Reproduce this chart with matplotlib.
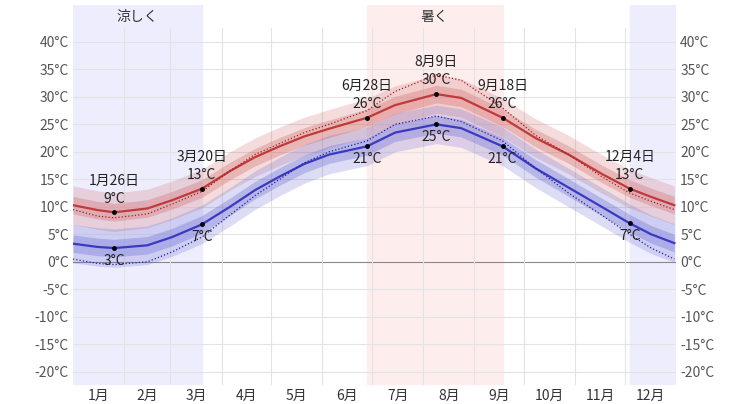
import numpy as np
import matplotlib.pyplot as plt

plt.rcParams['font.family'] = ['Noto Sans CJK JP', 'DejaVu Sans']

# day of year (0 = Jan 1)
days = [0, 15, 25, 45, 60, 78, 95, 110, 125, 140, 155, 178, 195, 220, 235, 260, 280, 300, 320, 337, 350, 364]
high = [10.3, 9.4, 9.0, 9.7, 11.2, 13.3, 16.5, 19.0, 21.0, 22.8, 24.2, 26.2, 28.5, 30.5, 29.8, 26.2, 22.5, 19.5, 16.0, 13.3, 11.8, 10.3]
low = [3.3, 2.7, 2.5, 3.0, 4.5, 6.8, 10.0, 13.0, 15.5, 17.8, 19.5, 21.0, 23.5, 25.0, 24.3, 21.0, 17.0, 13.5, 10.0, 7.0, 5.0, 3.4]
feel_high = [9.5, 8.3, 8.0, 8.7, 10.5, 12.8, 16.5, 19.5, 21.5, 23.5, 25.0, 27.5, 31.0, 34.0, 33.0, 28.0, 23.0, 19.5, 15.5, 12.5, 11.0, 9.5]
feel_low = [0.5, -0.3, -0.5, 0.0, 1.8, 4.5, 8.5, 12.0, 15.0, 18.0, 20.0, 22.0, 25.0, 26.5, 25.5, 22.0, 17.0, 12.5, 8.5, 5.0, 2.5, 0.5]

month_labels = ['1月', '2月', '3月', '4月', '5月', '6月', '7月', '8月', '9月', '10月', '11月', '12月']
month_starts = [0, 31, 59, 90, 120, 151, 181, 212, 243, 273, 304, 334, 365]

cool = [(0, 78), (337, 365)]
hot = (178, 260)

# annotations: (day, date label, high, low)
notes = [(25, '1月26日', 9, 2.5, 3), (78, '3月20日', 13.3, 6.8, 7), (178, '6月28日', 26.2, 21, 21),
         (220, '8月9日', 30.5, 25, 25), (260, '9月18日', 26.2, 21, 21), (337, '12月4日', 13.3, 7, 7)]

d = np.array(days)
hi = np.array(high)
lo = np.array(low)

fig = plt.figure(figsize=(7.51, 4.04), dpi=100)
ax = fig.add_axes([73/751, 19/404, 603/751, 380/404])
ax.set_xlim(0, 365)
ax.set_ylim(-22.4, 46.7)

for a, b in cool:
    ax.axvspan(a, b, color='#ededfe', zorder=0)
ax.axvspan(hot[0], hot[1], color='#feeded', zorder=0)
ax.text(np.mean(cool[0]) + 0, 44.5, '涼しく', ha='center', va='center', fontsize=10, color='#333')
ax.text(np.mean(hot), 44.5, '暑く', ha='center', va='center', fontsize=10, color='#333')

for y in range(-20, 45, 5):
    ax.plot([0, 365], [y, y], color='#888' if y == 0 else '#e3e3e3', lw=0.8, zorder=1)
for m in month_starts[1:-1]:
    ax.plot([m, m], [-22.4, 42.5], color='#e3e3e3', lw=0.8, zorder=1)

ax.fill_between(d, hi - 3.5, hi + 3.5, color='#d06060', alpha=0.22, lw=0, zorder=2)
ax.fill_between(d, hi - 1.6, hi + 1.6, color='#d06060', alpha=0.3, lw=0, zorder=2)
ax.fill_between(d, lo - 3.5, lo + 3.5, color='#6060d0', alpha=0.22, lw=0, zorder=2)
ax.fill_between(d, lo - 1.6, lo + 1.6, color='#6060d0', alpha=0.3, lw=0, zorder=2)
ax.plot(d, hi, color='#c03a3a', lw=1.6, zorder=3)
ax.plot(d, lo, color='#3a3ac0', lw=1.6, zorder=3)
ax.plot(d, feel_high, color='#a02020', lw=0.9, ls=':', zorder=3)
ax.plot(d, feel_low, color='#20209a', lw=0.9, ls=':', zorder=3)

for day, lab, h, l, lt in notes:
    ax.plot([day, day], [h, l], 'o', color='black', ms=2.5, zorder=4)
    ax.text(day, h + 1.2, '%.0f°C' % h, ha='center', va='bottom', fontsize=10, color='#222', zorder=5)
    ax.text(day, h + 4.5, lab, ha='center', va='bottom', fontsize=10, color='#222', zorder=5)
    ax.text(day, l - 1.0, '%d°C' % lt, ha='center', va='top', fontsize=10, color='#222', zorder=5)

yt = list(range(-20, 45, 5))
ax.set_yticks(yt)
ax.set_yticklabels(['%d°C' % y for y in yt], color='#555', fontsize=10)
ax.tick_params(axis='y', length=0, labelright=True, pad=3)
mids = [(month_starts[i] + month_starts[i + 1]) / 2 for i in range(12)]
ax.set_xticks(mids)
ax.set_xticklabels(month_labels, color='#333', fontsize=10)
ax.tick_params(axis='x', length=0, pad=3)
for s in ax.spines.values():
    s.set_visible(False)

fig.savefig('out.png', dpi=100)
